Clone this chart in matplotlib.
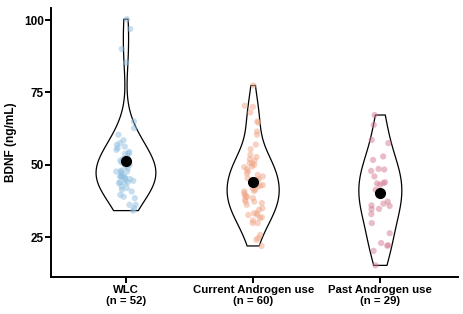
import numpy as np
import pandas as pd
import matplotlib
matplotlib.use('Agg')
import matplotlib.pyplot as plt
import seaborn as sns

groups = ['WLC', 'Current Androgen use', 'Past Androgen use']
tick_labels = ['WLC\n(n = 52)', 'Current Androgen use\n(n = 60)', 'Past Androgen use\n(n = 29)']

wlc = [100.3, 96.9, 90.0, 85.3, 65.0, 62.7, 60.4, 57.5, 56.9, 56.3, 55.2, 53.8,
       54.0, 50.9, 50.0, 48.9, 47.7, 47.7, 47.7, 46.0, 46.0, 45.1, 43.7, 43.7,
       42.0, 40.8, 41.4, 39.6, 39.0, 38.5, 36.2, 36.2, 35.0, 34.2,
       58.5, 55.8, 54.5, 53.0, 52.0, 51.5, 50.5, 49.5, 48.0, 47.0, 45.5, 44.5,
       44.0, 42.5, 46.0, 45.0, 44.0, 46.0]
current = [77.4, 70.4, 70.0, 68.1, 65.0, 64.6, 61.5, 60.4, 55.4, 52.7, 52.0, 51.4,
           50.6, 49.4, 49.2, 47.7, 46.0, 45.4, 44.8, 43.7, 42.5, 42.0, 41.4, 40.8,
           40.2, 39.0, 39.0, 37.9, 37.3, 37.3, 36.2, 35.0, 33.3, 33.3, 32.7, 32.7,
           31.9, 31.6, 29.9, 29.9, 25.8, 24.7, 24.1, 22.0,
           57.0, 53.5, 50.0, 48.5, 47.0, 46.5, 45.0, 43.0, 42.8, 41.0, 39.5, 38.5,
           36.8, 34.5, 30.8, 50.5]
past = [67.2, 63.8, 58.6, 57.5, 52.9, 51.7, 48.6, 47.9, 46.0, 44.0, 43.7, 43.1,
        41.4, 36.6, 35.8, 34.8, 34.7, 33.0, 29.9, 26.4, 23.0, 22.1, 20.3, 15.3,
        48.4, 22.2, 43.6, 36.0, 37.3]

colors = ['#8fbfe0', '#f0a686', '#d47a93']

df = pd.DataFrame({
    'group': [groups[0]] * len(wlc) + [groups[1]] * len(current) + [groups[2]] * len(past),
    'bdnf': wlc + current + past,
})

plt.rcParams['font.family'] = ['Liberation Sans', 'DejaVu Sans']
plt.rcParams['font.weight'] = 'bold'

fig = plt.figure(figsize=(4.63, 3.14), dpi=100)
ax = fig.add_axes([0.110, 0.118, 0.879, 0.857])

sns.violinplot(data=df, x='group', y='bdnf', order=groups, cut=0, inner=None,
               fill=False, color='black', linewidth=0.9, width=0.47,
               density_norm='area', bw_adjust=1.1, ax=ax)

np.random.seed(3)
sns.stripplot(data=df, x='group', y='bdnf', order=groups, hue='group',
              palette=colors, jitter=0.08, size=4.5, alpha=0.5, linewidth=0,
              legend=False, ax=ax)

means = df.groupby('group')['bdnf'].mean().reindex(groups)
ax.plot(range(len(groups)), means.values, 'o', color='black', markersize=7,
        linestyle='none', zorder=5)

ax.set_xlim(-0.59, 2.61)
ax.set_ylim(11.3, 104.2)
ax.set_yticks([25, 50, 75, 100])
ax.set_xticks(range(len(groups)))
ax.set_xticklabels(tick_labels, fontsize=8.2, fontweight='bold', linespacing=1.15)
ax.tick_params(axis='y', labelsize=8.5, width=1.4, length=4, pad=1)
ax.tick_params(axis='x', width=1.4, length=4, pad=1.5)
for lab in ax.get_yticklabels():
    lab.set_fontweight('bold')
ax.set_xlabel('')
ax.set_ylabel('BDNF (ng/mL)', fontsize=8.6, fontweight='bold', labelpad=5)

ax.spines['top'].set_visible(False)
ax.spines['right'].set_visible(False)
ax.spines['left'].set_linewidth(1.4)
ax.spines['bottom'].set_linewidth(1.4)

fig.savefig('out.png', dpi=100)
